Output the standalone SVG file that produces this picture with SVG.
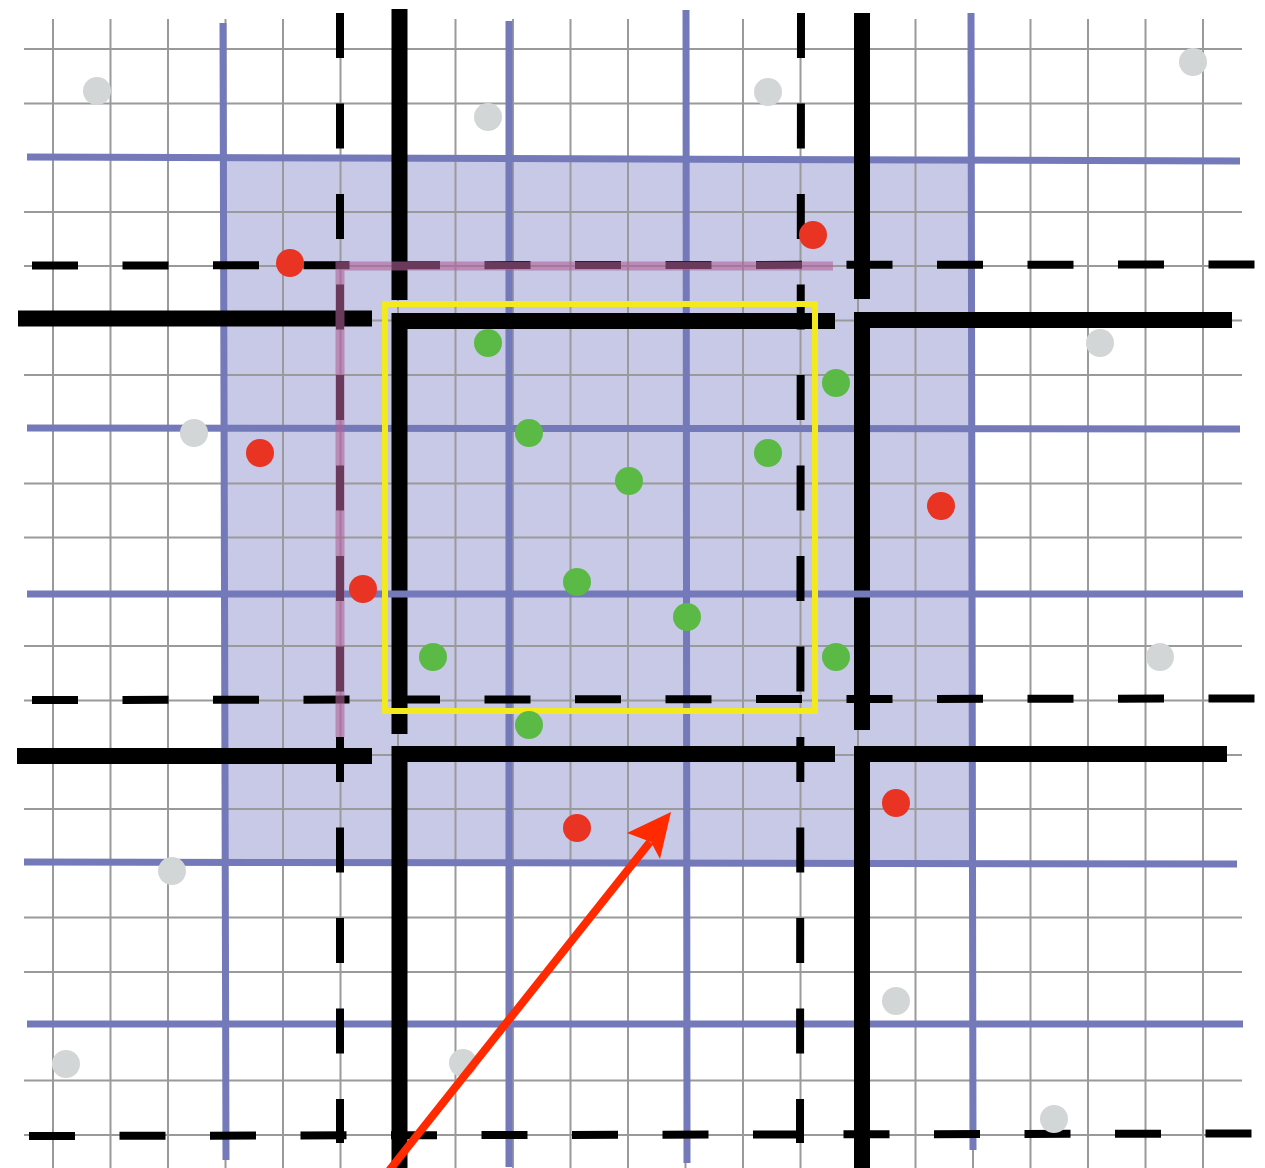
<svg xmlns="http://www.w3.org/2000/svg" width="1265" height="1168" viewBox="0 0 1265 1168">
<style>
.g{stroke:#9a9a9a;stroke-width:2;fill:none}
.b{stroke:#7379b9;stroke-width:7;fill:none}
.k{stroke:#000;stroke-width:16;fill:none;stroke-linejoin:miter;stroke-linecap:butt}
.dh{stroke:#000;stroke-width:8;fill:none;stroke-dasharray:46 44.5}
.dv{stroke:#000;stroke-width:8;fill:none;stroke-dasharray:45 45.5}
.pk{stroke:#b0609a;stroke-width:9;fill:none;opacity:0.6}
.y{stroke:#f2ea1c;stroke-width:6;fill:none}
.gr{fill:#d3d6d6}
.rd{fill:#e93323}
.gn{fill:#5bba45}
</style>
<rect width="1265" height="1168" fill="#fff"/>
<rect id="region" x="223" y="158" width="748" height="704" fill="#c8c9e6"/>
<g id="grid">
<path class="g" d="M53 19V1168M110.5 19V1168M168 19V1168M283 19V1168M340.5 19V1168M398 19V1168M455.5 19V1168M570.5 19V1168M628 19V1168M743 19V1168M800.5 19V1168M858 19V1168M915.5 19V1168M1030.5 19V1168M1088 19V1168M1145.5 19V1168M1203 19V1168M513 19V1168M225.5 19V1168M685.5 19V1168M973 19V1168"/>
<path class="g" d="M24 49H1242M24 103.5H1242M24 212H1242M24 266H1242M24 320.5H1242M24 375H1242M24 483.5H1242M24 537.5H1242M24 646H1242M24 700.5H1242M24 755H1242M24 809H1242M24 917.5H1242M24 972H1242M24 1080.5H1242M24 1135H1242"/>
</g>
<g id="blue-lines">
<path class="b" d="M223 23L226 1160M509 21L509 1167M686 10L687 1163M971 13L973 1150"/>
<path class="b" d="M27 157L1240 161M27 428L1240 429M24 862L1237 864M27 1024L1243 1024"/>
</g>
<g id="walls">
<path class="k" d="M399.5 9V300M862 13V299"/>
<path class="k" d="M18 318.5H372M17 756H372"/>
<path class="k" d="M835 321H399.5V734"/>
<path class="k" d="M835 754H399.5V1168"/>
<path class="k" d="M1232 320H862V730"/>
<path class="k" d="M1227 754H862V1168"/>
</g>
<path class="b" d="M27 594L1243 594"/>
<g id="dashed">
<path class="dh" d="M32 265.5L1255 264.5"/>
<path class="dh" d="M32 700L1255 698.5"/>
<path class="dh" d="M29 1136L1252 1133.5"/>
<path class="dv" d="M340 13V1143"/>
<path class="dv" d="M801 13L800 1143"/>
</g>
<g id="path-pink">
<path class="pk" d="M833 266H340V737"/>
</g>
<g id="window">
<rect class="y" x="385" y="304" width="430" height="407"/>
</g>
<g id="points-gray">
<circle id="g1" class="gr" cx="97" cy="91" r="14"/>
<circle id="g2" class="gr" cx="488" cy="117" r="14"/>
<circle id="g3" class="gr" cx="768" cy="92" r="14"/>
<circle id="g4" class="gr" cx="1193" cy="62" r="14"/>
<circle id="g5" class="gr" cx="194" cy="433" r="14"/>
<circle id="g6" class="gr" cx="1100" cy="343" r="14"/>
<circle id="g7" class="gr" cx="1160" cy="657" r="14"/>
<circle id="g8" class="gr" cx="172" cy="871" r="14"/>
<circle id="g9" class="gr" cx="66" cy="1064" r="14"/>
<circle id="g10" class="gr" cx="463" cy="1063" r="14"/>
<circle id="g11" class="gr" cx="896" cy="1001" r="14"/>
<circle id="g12" class="gr" cx="1054" cy="1119" r="14"/>
</g>
<g id="points-red">
<circle id="r1" class="rd" cx="290" cy="263" r="14"/>
<circle id="r2" class="rd" cx="813" cy="235" r="14"/>
<circle id="r3" class="rd" cx="260" cy="453" r="14"/>
<circle id="r4" class="rd" cx="363" cy="589" r="14"/>
<circle id="r5" class="rd" cx="941" cy="506" r="14"/>
<circle id="r6" class="rd" cx="577" cy="828" r="14"/>
<circle id="r7" class="rd" cx="896" cy="803" r="14"/>
</g>
<g id="points-green">
<circle id="n1" class="gn" cx="488" cy="343" r="14"/>
<circle id="n2" class="gn" cx="836" cy="383" r="14"/>
<circle id="n3" class="gn" cx="529" cy="433" r="14"/>
<circle id="n4" class="gn" cx="768" cy="453" r="14"/>
<circle id="n5" class="gn" cx="629" cy="481" r="14"/>
<circle id="n6" class="gn" cx="577" cy="582" r="14"/>
<circle id="n7" class="gn" cx="687" cy="617" r="14"/>
<circle id="n8" class="gn" cx="433" cy="657" r="14"/>
<circle id="n9" class="gn" cx="836" cy="657" r="14"/>
<circle id="n10" class="gn" cx="529" cy="725" r="14"/>
</g>
<g id="connectors">
<path d="M388 1172L650 842" stroke="#ff2a00" stroke-width="8" fill="none"/>
<path d="M671 812L627 833L651 842L660 859Z" fill="#ff2a00"/>
</g>
</svg>
